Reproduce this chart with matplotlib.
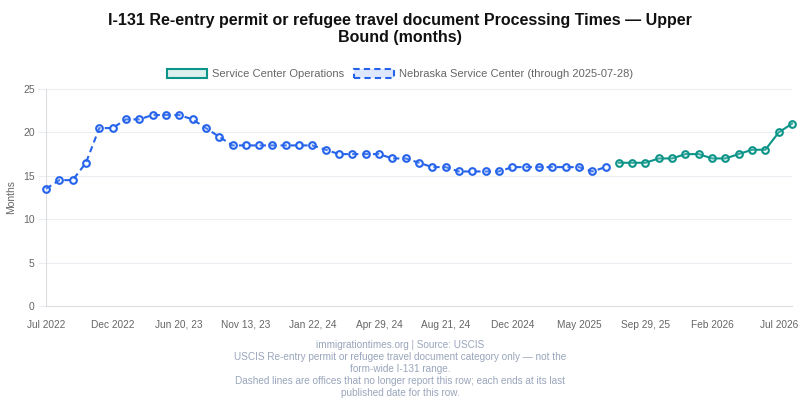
import matplotlib
matplotlib.use("Agg")
import matplotlib.pyplot as plt
import matplotlib.patches as mpatches

plt.rcParams['font.family'] = ['Liberation Sans', 'DejaVu Sans']

# ---- data ----
nebraska = [13.5, 14.5, 14.5, 16.5, 20.5, 20.5, 21.5, 21.5, 22, 22, 22, 21.5, 20.5, 19.5,
            18.5, 18.5, 18.5, 18.5, 18.5, 18.5, 18.5, 18, 17.5, 17.5, 17.5, 17.5, 17, 17,
            16.5, 16, 16, 15.5, 15.5, 15.5, 15.5, 16, 16, 16, 16, 16, 16, 15.5, 16]
operations = [16.5, 16.5, 16.5, 17, 17, 17.5, 17.5, 17, 17, 17.5, 18, 18, 20, 21]
tick_labels = ["Jul 2022", "Dec 2022", "Jun 20, 23", "Nov 13, 23", "Jan 22, 24", "Apr 29, 24",
               "Aug 21, 24", "Dec 2024", "May 2025", "Sep 29, 25", "Feb 2026", "Jul 2026"]
n_points = len(nebraska) + len(operations)

blue = '#2563eb'
teal = '#0d9488'

fig = plt.figure(figsize=(8, 4), dpi=100)
ax = fig.add_axes([46/800, 94/400, 746/800, 217/400])

x_neb = list(range(len(nebraska)))
x_ops = list(range(len(nebraska), n_points))

ax.plot(x_neb, nebraska, color=blue, lw=1.5, ls=(0, (3, 2)), marker='o', ms=4.8,
        mfc=(0.86, 0.9, 0.99, 0.2), mec=blue, mew=1.5, clip_on=False, zorder=3)
ax.plot(x_ops, operations, color=teal, lw=1.5, marker='o', ms=4.8,
        mfc=(0.85, 0.95, 0.93, 0.2), mec=teal, mew=1.5, clip_on=False, zorder=3)

ax.set_xlim(0, n_points - 1)
ax.set_ylim(0, 25)
ax.set_yticks([0, 5, 10, 15, 20, 25])
ax.set_xticks(list(range(0, n_points, 5)))
ax.set_xticklabels(tick_labels, va='baseline')

grid_c = '#ebedf2'
ax.grid(axis='y', color=grid_c, lw=0.8)
ax.set_axisbelow(True)
for s in ['top', 'right']:
    ax.spines[s].set_visible(False)
ax.spines['left'].set_color('#dcdde3')
ax.spines['bottom'].set_color('#dcdde3')
ax.tick_params(axis='y', length=6, width=0.8, color=grid_c, labelsize=7.5, labelcolor='#666666', pad=2.2)
ax.tick_params(axis='x', length=0, labelsize=7.3, labelcolor='#666666', pad=15.5)
ax.set_ylabel('Months', fontsize=7.5, color='#666666', labelpad=5)

fig.text(0.5, 0.968, "I-131 Re-entry permit or refugee travel document Processing Times — Upper\nBound (months)",
         ha='center', va='top', fontsize=11.5, fontweight='bold', color='#111111', linespacing=1.22)

h1 = mpatches.Patch(facecolor='#dcf1ee', edgecolor=teal, lw=1.5)
h2 = mpatches.Patch(facecolor='#dde7fd', edgecolor=blue, lw=1.5, ls=(0, (3, 2)))
fig.legend([h1, h2], ['Service Center Operations', 'Nebraska Service Center (through 2025-07-28)'],
           loc='center', bbox_to_anchor=(0.5, 0.815), ncol=2, frameon=False, fontsize=8.0,
           handlelength=3.6, handleheight=0.95, columnspacing=0.9, handletextpad=0.45,
           labelcolor='#666666')

footer = ["immigrationtimes.org | Source: USCIS",
          "USCIS Re-entry permit or refugee travel document category only — not the",
          "form-wide I-131 range.",
          "Dashed lines are offices that no longer report this row; each ends at its last",
          "published date for this row."]
fig.text(0.5, 1 - 340/400, "\n".join(footer), ha='center', va='top', fontsize=7.2,
         color='#99a5bb', linespacing=1.25)

fig.savefig('out.png', dpi=100)
